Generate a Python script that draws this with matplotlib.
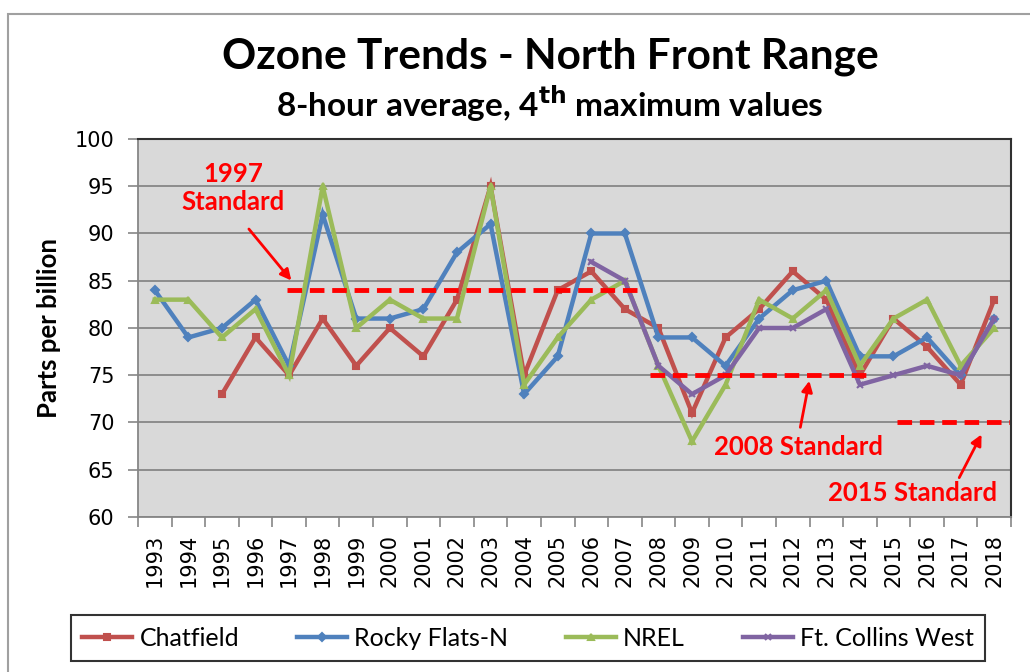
import matplotlib
matplotlib.use("Agg")
import matplotlib.pyplot as plt
import numpy as np
from matplotlib.patches import Rectangle

years = [str(y) for y in range(1993, 2019)]
nan = np.nan
chatfield = [nan, nan, 73, 79, 75, 81, 76, 80, 77, 83, 95, 75, 84, 86, 82, 80, 71, 79, 82, 86, 83, 75, 81, 78, 74, 83]
rocky_flats = [84, 79, 80, 83, 76, 92, 81, 81, 82, 88, 91, 73, 77, 90, 90, 79, 79, 76, 81, 84, 85, 77, 77, 79, 75, 81]
nrel = [83, 83, 79, 82, 75, 95, 80, 83, 81, 81, 95, 74, 79, 83, 85, 76, 68, 74, 83, 81, 84, 76, 81, 83, 76, 80]
ft_collins = [nan]*13 + [87, 85, 76, 73, 75, 80, 80, 82, 74, 75, 76, 75, 81]
series_names = ["Chatfield", "Rocky Flats-N", "NREL", "Ft. Collins West"]
standards = [84, 75, 70]
standard_labels = ["1997\nStandard", "2008 Standard", "2015 Standard"]

W, H = 1030, 672
fig = plt.figure(figsize=(W/100, H/100), dpi=100)
fig.patch.set_facecolor("white")
ax = fig.add_axes([138/W, 1-517/H, (1011-138)/W, (517-139)/H])
ax.set_facecolor("#D9D9D9")

x = np.arange(len(years))
colors = ["#C0504D", "#4F81BD", "#9BBB59", "#8064A2"]
markers = ["s", "D", "^", "x"]
for vals, name, c, m in zip([chatfield, rocky_flats, nrel, ft_collins], series_names, colors, markers):
    ax.plot(x, vals, color=c, lw=3.2, marker=m, ms=4, mew=1.5, label=name, solid_joinstyle="miter")

ax.set_xlim(-0.5, len(years)-0.5)
ax.set_ylim(60, 100)
ax.set_yticks(np.arange(60, 101, 5))
ax.yaxis.grid(True, color="#868686", lw=1.3)
ax.set_axisbelow(True)
ax.set_xticks(x)
ax.set_xticklabels(years, rotation=90, fontsize=15, family="DejaVu Sans")
ax.set_xticks(np.arange(-0.5, len(years), 1), minor=True)
ax.tick_params(axis="x", which="major", length=0, pad=12)
ax.tick_params(axis="x", which="minor", length=7, color="#868686", width=1.2)
ax.tick_params(axis="y", length=7, color="#868686", width=1.2, labelsize=15, pad=10)
for lab in ax.get_yticklabels():
    lab.set_family("DejaVu Sans")
for s in ["left", "bottom"]:
    ax.spines[s].set_color("#868686")
    ax.spines[s].set_linewidth(1.3)
for s in ["top", "right"]:
    ax.spines[s].set_color("#303030")
    ax.spines[s].set_linewidth(1.5)

ax.set_ylabel("Parts per billion", fontsize=18.5, fontweight="bold", family="Lato", labelpad=10)

# Standards
red = "#FF0000"
ax.plot([3.95, 14.45], [standards[0]]*2, color=red, lw=3.5, ls=(0, (3, 1.6)))
ax.plot([14.75, 21.36], [standards[1]]*2, color=red, lw=3.5, ls=(0, (3, 1.6)))
ax.plot([22.1, 25.5], [standards[2]]*2, color=red, lw=3.5, ls=(0, (3, 1.6)), clip_on=False)

tkw = dict(color=red, fontsize=18.5, fontweight="bold", family="Lato", ha="center", va="center")
ax.text(2.33, 94.8, standard_labels[0], linespacing=1.2, **tkw)
ax.text(19.18, 67.4, standard_labels[1], **tkw)
ax.text(22.58, 62.5, standard_labels[2], **tkw)
akw = dict(arrowstyle="-|>", color=red, lw=2, mutation_scale=16)
ax.annotate("", xy=(4.12, 84.8), xytext=(2.75, 90.7), arrowprops=akw)
ax.annotate("", xy=(19.51, 74.7), xytext=(19.21, 69.2), arrowprops=akw)
ax.annotate("", xy=(24.66, 69.0), xytext=(23.92, 63.9), arrowprops=akw)

fig.text(550/W, 1-57/H, "Ozone Trends - North Front Range", fontsize=30.5, fontweight="bold",
         family="Lato", ha="center", va="center")
fig.text(550/W, 1-104/H, "8-hour average, 4$^{\\mathbf{th}}$ maximum values", fontsize=24, fontweight="bold",
         family="Lato", ha="center", va="center")

leg = fig.legend(loc="center", bbox_to_anchor=(528/W, 1-638/H), ncol=4,
                 frameon=True, fancybox=False, edgecolor="black", handlelength=2.0,
                 columnspacing=2.3, handletextpad=0.3, borderpad=0.45,
                 prop={"family": "Lato", "size": 18})
leg.get_frame().set_linewidth(1.5)

fig.patches.append(Rectangle((8/W, -0.05), 1.1, 1-14/H+0.05, transform=fig.transFigure,
                             fill=False, edgecolor="#A0A0A0", lw=1.5))

fig.savefig("out.png", dpi=100)
